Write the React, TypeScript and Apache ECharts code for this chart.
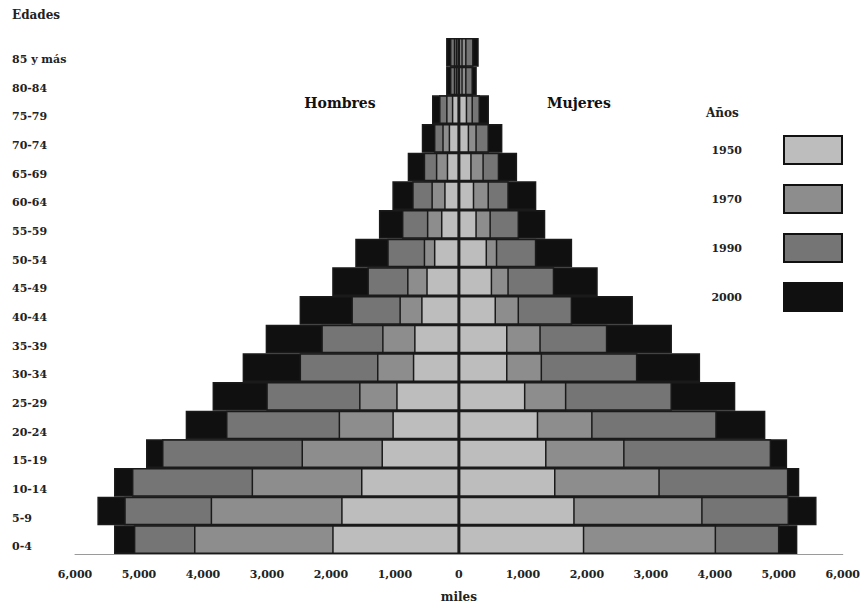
import React, { useEffect, useRef } from "react";
import * as echarts from "echarts";

const edades = ["0-4", "5-9", "10-14", "15-19", "20-24", "25-29", "30-34", "35-39", "40-44", "45-49", "50-54", "55-59", "60-64", "65-69", "70-74", "75-79", "80-84", "85 y más"];
const anios = ["1950", "1970", "1990", "2000"];

// miles de personas
const hombres1950 = [1980, 1840, 1530, 1210, 1040, 980, 720, 700, 590, 510, 390, 280, 230, 190, 160, 110, 50, 50];
const hombres1970 = [4140, 3880, 3240, 2460, 1880, 1560, 1280, 1200, 930, 810, 550, 500, 430, 360, 260, 200, 80, 80];
const hombres1990 = [5080, 5230, 5110, 4640, 3640, 3010, 2490, 2150, 1680, 1430, 1120, 890, 730, 550, 390, 310, 140, 140];
const hombres2000 = [5390, 5650, 5390, 4890, 4270, 3850, 3380, 3020, 2490, 1980, 1620, 1250, 1040, 800, 580, 420, 200, 200];

const mujeres1950 = [1960, 1810, 1510, 1370, 1240, 1040, 760, 760, 580, 520, 440, 280, 240, 200, 160, 130, 60, 60];
const mujeres1970 = [4020, 3810, 3140, 2590, 2090, 1680, 1300, 1280, 940, 780, 600, 500, 470, 390, 280, 220, 120, 120];
const mujeres1990 = [5010, 5160, 5150, 4880, 4030, 3330, 2790, 2320, 1770, 1490, 1210, 940, 780, 630, 470, 330, 220, 230];
const mujeres2000 = [5290, 5590, 5320, 5130, 4790, 4320, 3770, 3330, 2720, 2170, 1770, 1350, 1210, 910, 680, 470, 280, 310];

const ticks = [-6000, 6000];

const colores: Record<string, string> = {
  "1950": "#bdbdbd",
  "1970": "#8d8d8d",
  "1990": "#757575",
  "2000": "#101010",
};

const FONT = "'DejaVu Serif', 'Liberation Serif', serif";

export default function App() {
  const ref = useRef<HTMLDivElement>(null);
  useEffect(() => {
    document.body.style.margin = "0";
    if (!ref.current) return;
    const chart = echarts.init(ref.current, undefined, { renderer: "svg" });

    const porAnio: Record<string, [number[], number[]]> = {
      "1950": [hombres1950, mujeres1950],
      "1970": [hombres1970, mujeres1970],
      "1990": [hombres1990, mujeres1990],
      "2000": [hombres2000, mujeres2000],
    };

    const series: any[] = [];
    // draw largest (2000) first so that earlier years sit on top
    [...anios].reverse().forEach((a) => {
      const [h, m] = porAnio[a];
      const style = { color: colores[a], borderColor: "#1a1a1a", borderWidth: 1.5 };
      series.push({
        name: a,
        type: "bar",
        data: h.map((v) => -v),
        barGap: "-100%",
        barCategoryGap: "0%",
        itemStyle: style,
      });
      series.push({
        name: a,
        type: "bar",
        data: m.slice(),
        barGap: "-100%",
        barCategoryGap: "0%",
        itemStyle: style,
      });
    });

    const txt = { fontFamily: FONT, fontWeight: "bold" as const, color: "#222" };

    chart.setOption({
      animation: false,
      backgroundColor: "#ffffff",
      grid: { left: 75, right: 20, top: 38, bottom: 51, containLabel: false },
      xAxis: {
        type: "value",
        min: ticks[0],
        max: ticks[1],
        interval: 1000,
        axisLine: { show: true, lineStyle: { color: "#9a9a9a", width: 1 } },
        axisTick: { show: false },
        splitLine: { show: false },
        axisLabel: {
          ...txt,
          fontSize: 11,
          margin: 15,
          formatter: (v: number) => Math.abs(v).toLocaleString("en-US"),
        },
        name: "miles",
        nameLocation: "middle",
        nameGap: 37,
        nameTextStyle: { ...txt, fontSize: 12 },
      },
      yAxis: {
        type: "category",
        data: edades,
        axisLine: { show: false },
        axisTick: { show: false },
        axisLabel: {
          ...txt,
          fontSize: 11,
          align: "left",
          verticalAlign: "top",
          lineHeight: 14,
          margin: 63,
        },
      },
      legend: {
        data: anios,
        orient: "vertical",
        right: 15,
        top: 130,
        align: "right",
        itemWidth: 58,
        itemHeight: 28,
        itemGap: 19,
        icon: "rect",
        selectedMode: false,
        itemStyle: { borderColor: "#111", borderWidth: 2 },
        textStyle: { ...txt, fontSize: 11, padding: [14, 37, 0, 0] },
      },
      graphic: [
        { type: "text", left: 12, top: 9, style: { text: "Edades", font: `bold 12px ${FONT}`, fill: "#222" } },
        { type: "text", x: 340, y: 103, style: { text: "Hombres", font: `bold 14px ${FONT}`, fill: "#111", align: "center", verticalAlign: "middle" } },
        { type: "text", x: 579, y: 103, style: { text: "Mujeres", font: `bold 14px ${FONT}`, fill: "#111", align: "center", verticalAlign: "middle" } },
        { type: "text", x: 706, y: 113, style: { text: "Años", font: `bold 12px ${FONT}`, fill: "#222", verticalAlign: "middle" } },
      ],
      series,
    });
    return () => chart.dispose();
  }, []);
  return <div ref={ref} style={{ width: 863, height: 608 }} />;
}
